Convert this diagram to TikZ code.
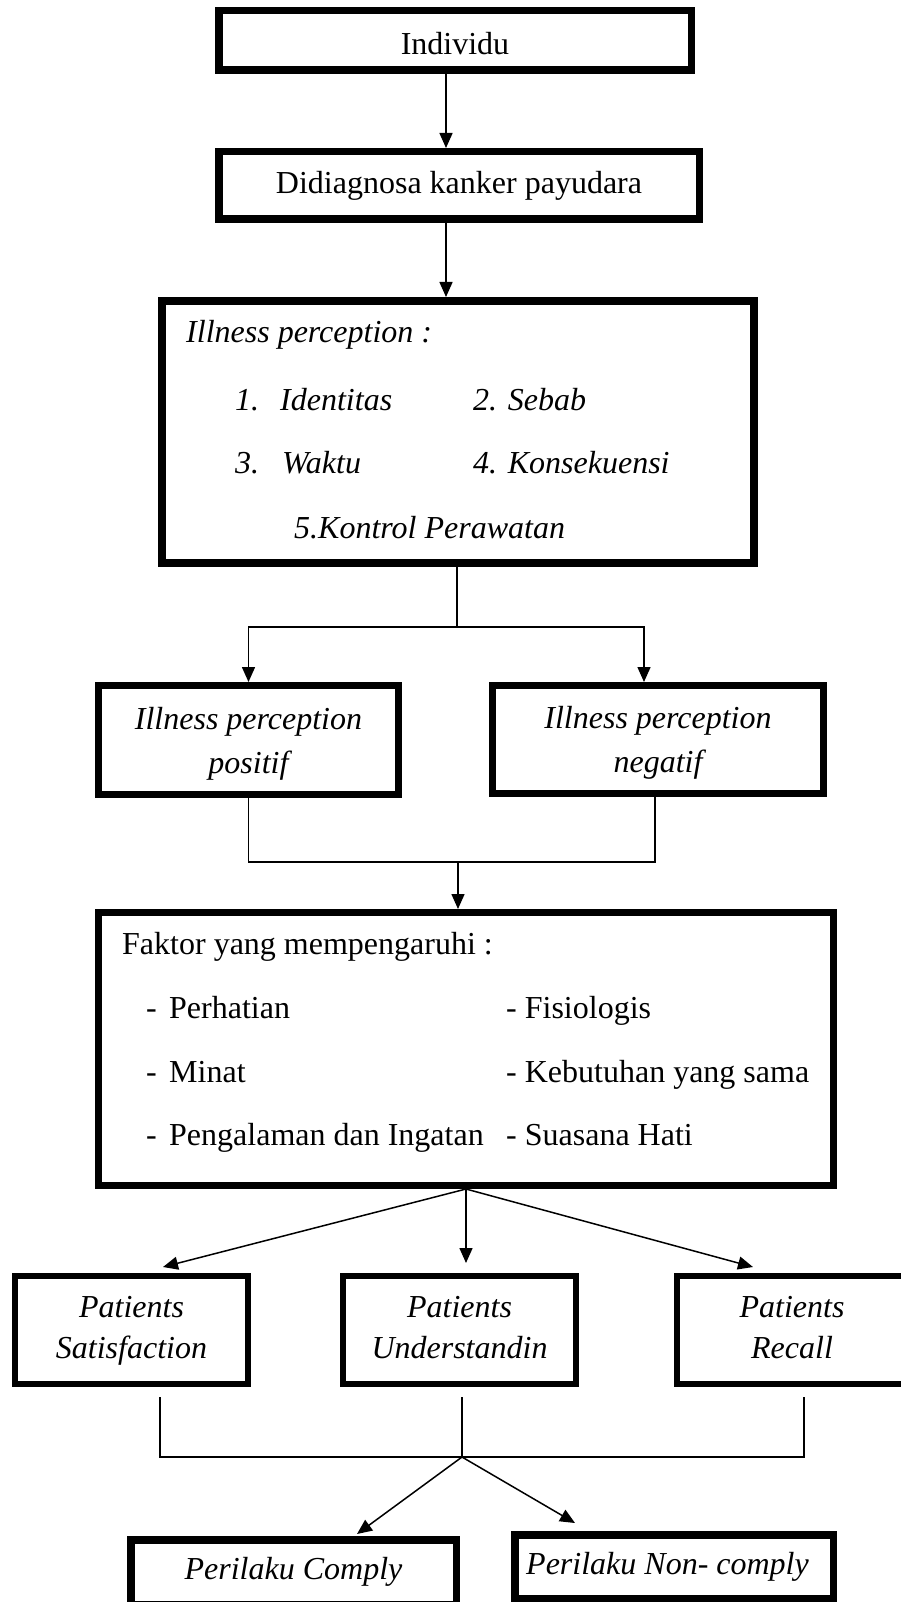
\documentclass[tikz,border=0pt]{standalone}
\usepackage{fontspec}
\setmainfont{Liberation Serif}
\usetikzlibrary{arrows.meta}
\tikzset{
  box/.style={draw=black, inner sep=0pt, align=center,
    font=\fontsize{32}{42}\selectfont},
  twoline/.style={font=\fontsize{32}{41}\selectfont\itshape, text height=63pt, text depth=7pt},
  conn/.style={line width=1.5pt, draw=black},
  arr/.style={conn, -{Triangle[width=13pt,length=15pt]}},
  txt/.style={anchor=base west, inner sep=0pt, font=\fontsize{32}{38}\selectfont},
  itxt/.style={txt, font=\fontsize{32}{38}\selectfont\itshape},
}
\begin{document}
\begin{tikzpicture}[x=1pt, y=-1pt]
\path[use as bounding box, clip] (0,0) rectangle (901,1602);

% boxes
\node[box, line width=7.5pt, minimum width=472.5pt, minimum height=59.5pt, text height=28pt, text depth=0pt] (ind) at (455,40.5) {Individu};
\node[box, line width=7.5pt, minimum width=480.5pt, minimum height=67.5pt] (diag) at (459,185.5) {Didiagnosa kanker payudara};
\node[box, line width=8pt, minimum width=592pt, minimum height=262pt] (ill) at (458,432) {};
\node[box, line width=7pt, minimum width=300pt, minimum height=109pt, font=\fontsize{32}{44}\selectfont\itshape, text height=72pt, text depth=6pt] (pos) at (248.5,740) {Illness perception\\positif};
\node[box, line width=7pt, minimum width=331pt, minimum height=108pt, font=\fontsize{32}{44}\selectfont\itshape, text height=72pt, text depth=6pt] (neg) at (658,739.5) {Illness perception\\negatif};
\node[box, line width=7pt, minimum width=735pt, minimum height=273pt] (fak) at (466,1049) {};
\node[box, twoline, line width=6pt, minimum width=233pt, minimum height=108pt] (sat) at (131.5,1330) {Patients\\Satisfaction};
\node[box, twoline, line width=6pt, minimum width=233pt, minimum height=108pt] (und) at (459.5,1330) {Patients\\Understandin};
\node[box, twoline, line width=6pt, minimum width=230pt, minimum height=108pt] (rec) at (792,1330) {Patients\\Recall};
\node[box, line width=7.5pt, minimum width=325.5pt, minimum height=64.5pt, font=\fontsize{32}{41}\selectfont\itshape] (com) at (293.5,1572) {Perilaku Comply};
\node[box, line width=7.5pt, minimum width=318.5pt, minimum height=63.5pt, font=\fontsize{32}{41}\selectfont\itshape] (non) at (674,1566.5) {Perilaku Non- comply\hspace*{13pt}};

% texts inside Illness perception box
\node[itxt] (ip) at (186,342) {Illness perception :};
\node[itxt] (n1) at (235,410) {1.};
\node[itxt] (i1) at (280,410) {Identitas};
\node[itxt] (i2) at (473,410) {2. Sebab};
\node[itxt] (n3) at (235,473) {3.};
\node[itxt] (i3) at (282,473) {Waktu};
\node[itxt] (i4) at (473,473) {4. Konsekuensi};
\node[itxt] (i5) at (294,538) {5.Kontrol Perawatan};

% texts inside Faktor box
\node[txt] (ft) at (122,954) {Faktor yang mempengaruhi :};
\node[txt] (d1) at (146,1018) {-};
\node[txt] (f1) at (169,1018) {Perhatian};
\node[txt] (f2) at (506,1018) {- Fisiologis};
\node[txt] (d3) at (146,1082) {-};
\node[txt] (f3) at (169,1082) {Minat};
\node[txt] (f4) at (506,1082) {- Kebutuhan yang sama};
\node[txt] (d5) at (146,1145) {-};
\node[txt] (f5) at (169,1145) {Pengalaman dan Ingatan};
\node[txt] (f6) at (506,1145) {- Suasana Hati};

% helper coordinates
\coordinate (x1) at (446,0);
\coordinate (j1) at (457,627);
\coordinate (nx) at (644,0);
\coordinate (nx2) at (655,0);
\coordinate (j2) at (458,862);
\coordinate (t1) at (163,1267);
\coordinate (t2) at (466,1263);
\coordinate (t3) at (753,1267);
\coordinate (b1) at (160,1397);
\coordinate (b2) at (462,1397);
\coordinate (b3) at (804,1397);
\coordinate (j3) at (462,1457);
\coordinate (t4) at (357,1534);
\coordinate (t5) at (575,1523);

% connectors
\draw[arr] (ind.south -| x1) -- (diag.north -| x1);
\draw[arr] (diag.south -| x1) -- (ill.north -| x1);
\draw[conn] (ill.south -| j1) -- (j1);
\draw[arr] (j1) -| (pos.north);
\draw[arr] (j1) -| (neg.north -| nx);
\draw[conn] (pos.south) |- (j2);
\draw[conn] (neg.south -| nx2) |- (j2);
\draw[arr] (j2) -- (fak.north -| j2);
\draw[arr] (fak.south) -- (t1);
\draw[arr] (fak.south) -- (t2);
\draw[arr] (fak.south) -- (t3);
\draw[conn] (b1) |- (j3) -| (b3);
\draw[conn] (b2) -- (j3);
\draw[arr] (j3) -- (t4);
\draw[arr] (j3) -- (t5);
\end{tikzpicture}
\end{document}
